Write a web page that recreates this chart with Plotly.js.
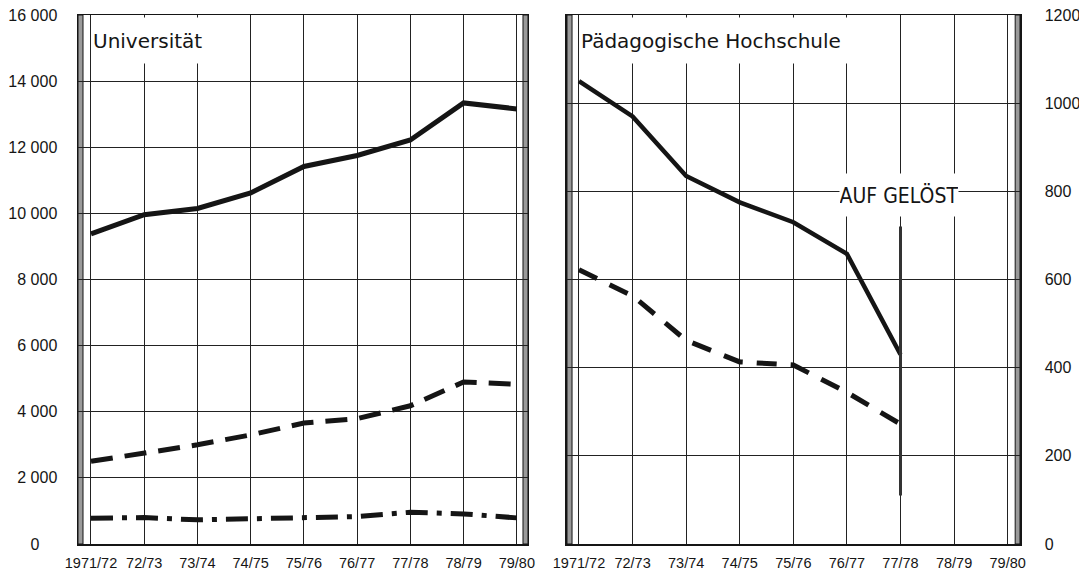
<!DOCTYPE html>
<html>
<head>
<meta charset="utf-8">
<script src="https://cdn.plot.ly/plotly-3.0.1.min.js"></script>
<style>html,body{margin:0;padding:0;background:#fff;}#chart{width:1079px;height:574px;}</style>
</head>
<body>
<div id="chart"></div>
<script>
// Categories (school years)
const years = ['1971/72','72/73','73/74','74/75','75/76','76/77','77/78','78/79','79/80'];
// Universität (left axis)
const uniSolid   = [9380, 9960, 10150, 10620, 11420, 11750, 12220, 13340, 13160];
const uniDashed  = [2500, 2750, 3000, 3300, 3660, 3790, 4180, 4900, 4830];
const uniDashDot = [780, 800, 730, 770, 820, 830, 960, 910, 790];
// Pädagogische Hochschule (right axis), dissolved 1977/78
const phYears  = ['1971/72','72/73','73/74','74/75','75/76','76/77','77/78'];
const phSolid  = [1050, 970, 835, 775, 730, 658, 430];
const phDashed = [622, 563, 462, 413, 406, 344, 272];
const dissolvedYear = ['77/78','77/78'];
const dissolvedBar  = [720, 110];
// Tick labels
const uniTicks = [0,2000,4000,6000,8000,10000,12000,14000,16000];
const uniTickText = ['0\u00a0\u00a0\u00a0\u00a0','2 000','4 000','6 000','8 000','10 000','12 000','14 000','16 000'];
const phTicks = [0,200,400,600,800,1000,1200];
const phTickText = ['0','200','400','600','800','1000','1200'];

const ink = '#151515';
const traces = [
  {x: years, y: uniSolid, xaxis:'x', yaxis:'y', mode:'lines', line:{color:ink, width:5}},
  {x: years, y: uniDashed, xaxis:'x', yaxis:'y', mode:'lines', line:{color:ink, width:5, dash:'22px,12px'}},
  {x: years, y: uniDashDot, xaxis:'x', yaxis:'y', mode:'lines', line:{color:ink, width:5, dash:'22px,9px,5px,9px'}},
  {x: phYears, y: phSolid, xaxis:'x2', yaxis:'y2', mode:'lines', line:{color:ink, width:4.5}},
  {x: phYears, y: phDashed, xaxis:'x2', yaxis:'y2', mode:'lines', line:{color:ink, width:5, dash:'20px,14px'}},
  {x: dissolvedYear, y: dissolvedBar, xaxis:'x2', yaxis:'y2', mode:'lines', line:{color:'#333', width:3}}
].map(t => Object.assign(t, {hoverinfo:'skip', showlegend:false}));

const xFont = {family:'Liberation Sans, Arial, sans-serif', size:14.5, color:ink};
const yFont = {family:'Liberation Sans, Arial, sans-serif', size:16, color:ink};
const baseX = {type:'category', categoryorder:'array', categoryarray:years,
  showgrid:true, gridcolor:'#222', gridwidth:1, zeroline:false,
  showline:true, mirror:true, linecolor:ink, linewidth:1.5, ticks:'', tickfont:xFont, ticklabelstandoff:5, fixedrange:true};
const baseY = {showgrid:true, gridcolor:'#222', gridwidth:1, zeroline:false, showline:true, mirror:true,
  linecolor:ink, linewidth:1.5, ticks:'', tickmode:'array', tickfont:yFont, fixedrange:true};

function bar(xref, x0, x1, y1){
  return {type:'rect', layer:'below', xref:xref, yref:(xref==='x'?'y':'y2'), x0:x0, x1:x1, y0:0, y1:y1,
    fillcolor:'#9a9a9a', line:{color:ink, width:1}};
}

const layout = {
  width:1079, height:574,
  margin:{l:78, r:59, t:15, b:30, pad:0},
  paper_bgcolor:'#fff', plot_bgcolor:'#fff',
  showlegend:false,
  xaxis: Object.assign({}, baseX, {domain:[0, 0.4777], range:[-0.244, 8.21], anchor:'y'}),
  yaxis: Object.assign({}, baseY, {range:[0,16000], tickvals:uniTicks, ticktext:uniTickText, anchor:'x', ticklabelstandoff:16}),
  xaxis2: Object.assign({}, baseX, {domain:[0.5191, 1], range:[-0.224, 8.23], anchor:'y2'}),
  yaxis2: Object.assign({}, baseY, {range:[0,1200], tickvals:phTicks, ticktext:phTickText, anchor:'x2', side:'right', ticklabelstandoff:20}),
  shapes: [
    bar('x', -0.244, -0.15, 16000),
    bar('x', 8.116, 8.21, 16000),
    bar('x2', -0.224, -0.13, 1200),
    bar('x2', 8.14, 8.23, 1200)
  ],
  annotations: [
    {text:'Universität', xref:'paper', yref:'paper', x:0.0149, y:0.9955, xanchor:'left', yanchor:'top', showarrow:false,
      width:121, height:45, align:'left', valign:'middle', bgcolor:'#fff', borderpad:0,
      font:{family:'DejaVu Sans, sans-serif', size:20, color:ink}},
    {text:'Pädagogische Hochschule', xref:'paper', yref:'paper', x:0.533, y:0.9955, xanchor:'left', yanchor:'top', showarrow:false,
      width:288, height:45, align:'left', valign:'middle', bgcolor:'#fff', borderpad:0,
      font:{family:'DejaVu Sans, sans-serif', size:20, color:ink}},
    {text:'AUF GELÖST', xref:'paper', yref:'paper', x:0.8715, y:0.659, xanchor:'center', yanchor:'middle', showarrow:false,
      width:118, height:42, align:'center', valign:'middle', bgcolor:'#fff', borderpad:0,
      font:{family:'DejaVu Sans Condensed, sans-serif', size:21, color:ink}}
  ]
};

Plotly.newPlot('chart', traces, layout, {displayModeBar:false, staticPlot:true});
</script>
</body>
</html>
